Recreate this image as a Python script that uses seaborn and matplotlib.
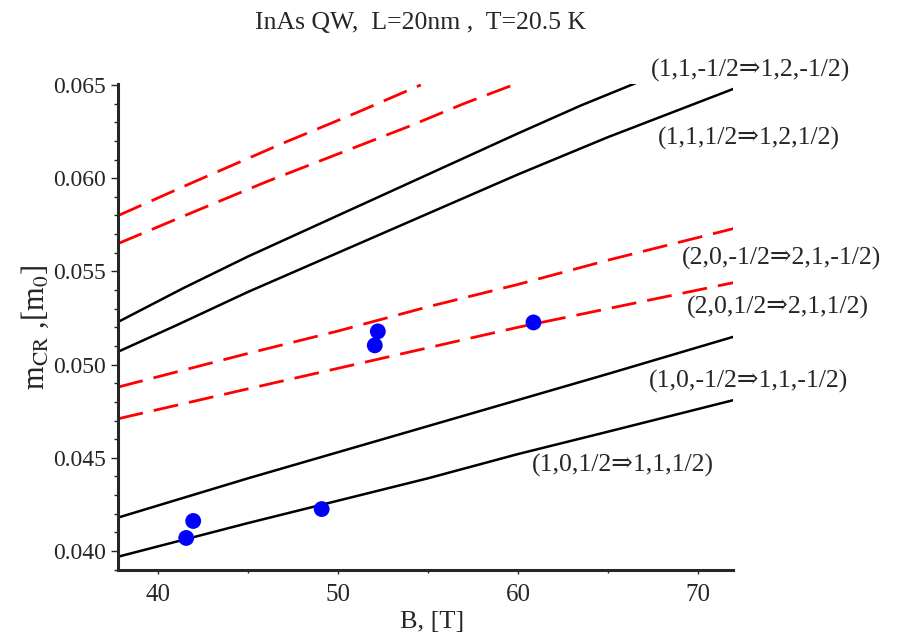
import pandas as pd
import numpy as np
import matplotlib
matplotlib.use("Agg")
import matplotlib.pyplot as plt
import seaborn as sns

# cyclotron-resonance mass vs magnetic field, InAs QW
B_black1 = [37.8, 41.4, 45, 50, 55, 60, 63.5, 66.8]
m_black1 = [0.0523, 0.0541, 0.0558, 0.0580, 0.0602, 0.0624, 0.0639, 0.0652]
B_black2 = [37.8, 41, 45, 50, 55, 60, 65, 72]
m_black2 = [0.0507, 0.0521, 0.0539, 0.0560, 0.0581, 0.0602, 0.0622, 0.0648]
B_black3 = [37.8, 45, 50, 55, 60, 65, 72]
m_black3 = [0.0418, 0.0439, 0.0453, 0.0467, 0.0481, 0.0495, 0.0515]
B_black4 = [37.8, 45, 50, 55, 60, 65, 72]
m_black4 = [0.0397, 0.0415, 0.0427, 0.0439, 0.0452, 0.0464, 0.0481]

B_red1 = [37.8, 42, 47, 51, 54.6]
m_red1 = [0.0580, 0.0598, 0.0619, 0.0635, 0.0650]
B_red2 = [37.8, 42, 46, 50, 54, 57, 60]
m_red2 = [0.0565, 0.0582, 0.0598, 0.0613, 0.0628, 0.0640, 0.0651]
B_red3 = [37.8, 45, 50, 55, 60, 65, 72]
m_red3 = [0.0488, 0.0506, 0.0518, 0.0531, 0.0543, 0.0556, 0.0573]
B_red4 = [37.8, 45, 50, 55, 60, 65, 72]
m_red4 = [0.0471, 0.0487, 0.0498, 0.0509, 0.0520, 0.0530, 0.0544]

B_exp = [41.56, 41.95, 49.09, 52.04, 52.21, 60.86]
m_exp = [0.04070, 0.04161, 0.04225, 0.05103, 0.05178, 0.05226]

labels = ["(1,1,-1/2\u21d21,2,-1/2)", "(1,1,1/2\u21d21,2,1/2)",
          "(2,0,-1/2\u21d22,1,-1/2)", "(2,0,1/2\u21d22,1,1/2)",
          "(1,0,-1/2\u21d21,1,-1/2)", "(1,0,1/2\u21d21,1,1/2)"]
label_B = [67.4, 67.8, 69.1, 69.4, 67.3, 60.75]
label_m = [0.06575, 0.06211, 0.05569, 0.05306, 0.04910, 0.04460]

rows = []
for name, bs, ms in [("b1", B_black1, m_black1), ("b2", B_black2, m_black2),
                     ("b3", B_black3, m_black3), ("b4", B_black4, m_black4),
                     ("r1", B_red1, m_red1), ("r2", B_red2, m_red2),
                     ("r3", B_red3, m_red3), ("r4", B_red4, m_red4)]:
    for b, m in zip(bs, ms):
        rows.append({"curve": name, "B": b, "m": m})
df = pd.DataFrame(rows)
df_exp = pd.DataFrame({"B": B_exp, "m": m_exp})

sns.set_style("ticks")
serif = ["Liberation Serif", "DejaVu Serif"]
plt.rcParams["font.family"] = serif
plt.rcParams["mathtext.fontset"] = "stix"

fig = plt.figure(figsize=(8.98, 6.33), dpi=100)
ax = fig.add_axes([0.1314, 0.0995, 0.6849, 0.7678])

black = df[df["curve"].str.startswith("b")]
red = df[df["curve"].str.startswith("r")]
sns.lineplot(data=black, x="B", y="m", units="curve", estimator=None,
             color="black", lw=1.8, ax=ax, sort=False)
sns.lineplot(data=red, x="B", y="m", units="curve", estimator=None,
             color="#ff0000", lw=2.0, ax=ax, sort=False, dashes=False)
for ln in ax.lines[-4:]:
    ln.set_linestyle((0, (9, 4)))
sns.scatterplot(data=df_exp, x="B", y="m", color="#0000ff", s=130,
                edgecolor="none", ax=ax, zorder=5)

for lab, bx, my in zip(labels, label_B, label_m):
    ax.text(bx, my, lab, ha="left", va="center", fontsize=18.5,
            family=serif, clip_on=False)

ax.set_xlim(37.77, 71.95)
ax.set_ylim(0.03898, 0.06505)
ax.set_xticks([40, 50, 60, 70])
ax.set_xticks([45, 55, 65], minor=True)
ax.set_yticks([0.040, 0.045, 0.050, 0.055, 0.060, 0.065])
ax.set_yticklabels(["0.040", "0.045", "0.050", "0.055", "0.060", "0.065"])
ax.set_yticks(np.arange(0.039, 0.0651, 0.001), minor=True)
ax.tick_params(axis="y", which="major", length=5, width=1, labelsize=17)
ax.tick_params(axis="y", which="minor", length=3, width=1)
ax.tick_params(axis="x", which="major", length=3, width=1, labelsize=18,
               pad=7)
ax.tick_params(axis="x", which="minor", length=2, width=1)

sns.despine(ax=ax)
for s in ["left", "bottom"]:
    ax.spines[s].set_linewidth(2.2)

ax.set_xlabel("B, [T]", fontsize=19, labelpad=8)
ax.xaxis.set_label_coords(0.51, -0.085)
ax.set_ylabel(r"m$_{\mathrm{CR}}$ ,[m$_0$]", fontsize=22, labelpad=2)
fig.text(0.468, 0.964, "InAs QW,  L=20nm ,  T=20.5 K", ha="center",
         va="center", fontsize=18.5)

fig.savefig("out.png", dpi=100)
